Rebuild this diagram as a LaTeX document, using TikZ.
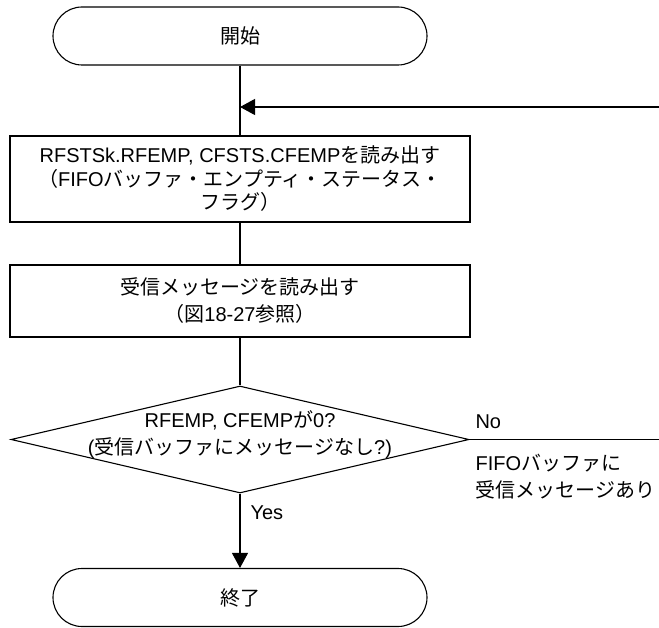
\documentclass[tikz,border=0pt]{standalone}
\usepackage{fontspec}
\setmainfont{Liberation Sans}
\newfontfamily\jp{Noto Sans CJK JP}
\usetikzlibrary{arrows.meta,shapes.geometric}
\begin{document}
\begin{tikzpicture}[x=1bp,y=-1bp,
  font=\fontsize{20bp}{23.5bp}\selectfont,
  line width=1.1bp,
  box/.style={draw, rectangle, minimum width=460bp, inner sep=0, align=center},
  term/.style={draw, rectangle, rounded corners=29bp, minimum width=374bp, minimum height=58bp, inner sep=0},
  decision/.style={draw, diamond, minimum width=458bp, minimum height=107bp, inner sep=0},
  txt/.style={inner sep=0, align=center},
  lbl/.style={inner sep=0, anchor=base west},
  arr/.style={-{Triangle[length=15bp,width=16bp]}}]
\useasboundingbox (0,0) rectangle (659,628);

\node[term] (start) at (240,36) {\jp 開始};
\node[box, minimum height=86bp] (read1) at (240,179)
  {RFSTSk.RFEMP, CFSTS.CFEMP{\jp を読み出す}\\
   {\jp （}FIFO{\jp バッファ・エンプティ・ステータス・}\\
   {\jp フラグ）}};
\node[box, minimum height=72bp] (read2) at (240,301)
  {{\jp 受信メッセージを読み出す}\\[3.5bp]
   {\jp （図}18-27{\jp 参照）}};
\node[decision] (dec) at (240,439.5) {};
\node[txt] (dectxt) at (240,435)
  {RFEMP, CFEMP{\jp が}0?\\[3.5bp]
   ({\jp 受信バッファにメッセージなし}?)};
\node[term] (fin) at (240,597.5) {\jp 終了};

\coordinate (loopin) at (659,107);
\coordinate (join) at (240,107);
\coordinate (noout) at (659,439.5);

\draw (start) -- (read1);
\draw[arr] (loopin) -- (join);
\draw (read1) -- (read2);
\draw (read2) -- (dec.north);
\draw[arr] (dec.south) -- (fin.north);
\draw (dec.east) -- (noout);

\node[lbl] (nolbl) at (475,428) {No};
\node[lbl] (fifo1) at (475,470) {FIFO{\jp バッファに}};
\node[lbl] (fifo2) at (475,497) {\jp 受信メッセージあり};
\node[lbl] (yeslbl) at (250,519) {Yes};
\end{tikzpicture}
\end{document}
